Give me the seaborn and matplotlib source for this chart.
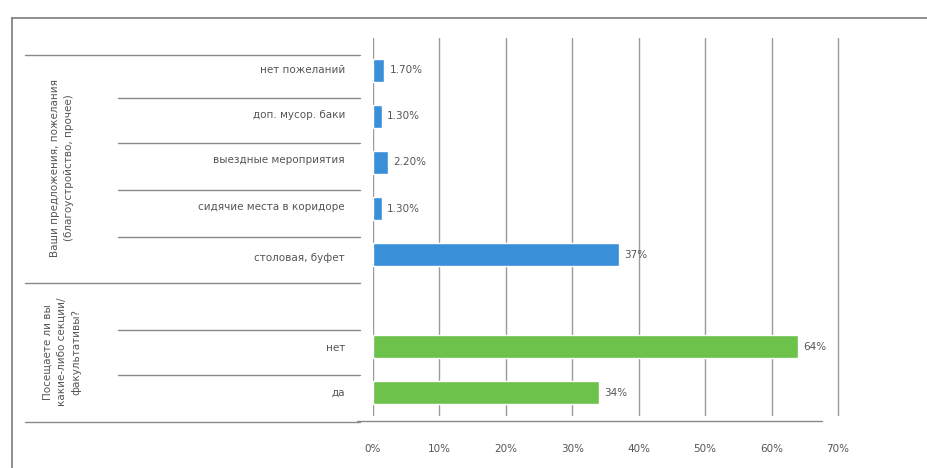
import matplotlib
matplotlib.use("Agg")
import matplotlib.pyplot as plt
import pandas as pd
import seaborn as sns
from matplotlib.lines import Line2D

# survey answers, top to bottom as in the table
categories = ["нет пожеланий", "доп. мусор. баки", "выездные мероприятия",
              "сидячие места в коридоре", "столовая, буфет", " ", "нет", "да"]
values = [1.7, 1.3, 2.2, 1.3, 37, None, 64, 34]
labels = ["1.70%", "1.30%", "2.20%", "1.30%", "37%", "", "64%", "34%"]
groups = ["wish", "wish", "wish", "wish", "wish", "sport", "sport", "sport"]
group_titles = ["Ваши предложения, пожелания\n(благоустройство, прочее)",
                "Посещаете ли вы\nкакие-либо секции/\nфакультативы?"]
xticks = [0, 10, 20, 30, 40, 50, 60, 70]

df = pd.DataFrame({"cat": categories, "val": values, "grp": groups, "lab": labels})

sns.set_style("white")
plt.rcParams['font.family'] = ['DejaVu Sans']

W, H = 927, 468
fig = plt.figure(figsize=(W / 100, H / 100), dpi=100)

# axes placed in pixels
ax = fig.add_axes([373 / W, 1 - 416 / H, 467 / W, (416 - 38) / H])
sns.barplot(data=df, y="cat", x="val", hue="grp", order=categories,
            palette={"wish": "#3a8fd9", "sport": "#6cc24a"}, dodge=False,
            width=0.5, orient="h", legend=False, ax=ax, saturation=1)

for cont, g in zip(ax.containers, ["wish", "sport"]):
    sub = df[(df["grp"] == g) & df["val"].notna()]
    ax.bar_label(cont, labels=list(sub["lab"]), padding=4, fontsize=7.5,
                 color="#555555")

ax.set_xlim(0, 70.3)
ax.set_ylim(7.5, -0.7)
ax.set_xticks(xticks)
ax.set_xticklabels([f"{t}%" for t in xticks], fontsize=7.5, color="#555555")
ax.tick_params(axis="x", length=0, pad=20)
ax.set_yticks([])
ax.set_xlabel("")
ax.set_ylabel("")
ax.grid(axis="x", color="#9a9a9a", linewidth=1)
ax.set_axisbelow(True)
for s in ax.spines.values():
    s.set_visible(False)

# floor line of the 3d chart
fig.add_artist(Line2D([357 / W, 822 / W], [1 - 421 / H] * 2, color="#8a8a8a", lw=1))

# outer frame
fig.add_artist(Line2D([12 / W, 12 / W], [0, 1 - 18 / H], color="#7a7a7a", lw=1.2))
fig.add_artist(Line2D([12 / W, 1], [1 - 18 / H] * 2, color="#7a7a7a", lw=1.2))

# left table with category names
rows_y = [70, 115, 160, 207, 258, 305, 348, 393]
full_lines = [55, 283, 422]
inner_lines = [98, 143, 190, 237, 330, 375]
for y in full_lines:
    fig.add_artist(Line2D([25 / W, 360 / W], [1 - y / H] * 2, color="#8a8a8a", lw=1))
for y in inner_lines:
    fig.add_artist(Line2D([118 / W, 360 / W], [1 - y / H] * 2, color="#8a8a8a", lw=1))

for c, y in zip(categories, rows_y):
    fig.text(345 / W, 1 - y / H, c, ha="right", va="center", fontsize=7.5,
             color="#555555")

fig.text(62 / W, 1 - 168 / H, group_titles[0], rotation=90, ha="center",
         va="center", fontsize=7.5, color="#555555", multialignment="center",
         linespacing=1.6)
fig.text(62 / W, 1 - 352 / H, group_titles[1], rotation=90, ha="center",
         va="center", fontsize=7.5, color="#555555", multialignment="center",
         linespacing=1.5)

fig.savefig("out.png", dpi=100, facecolor="white")
